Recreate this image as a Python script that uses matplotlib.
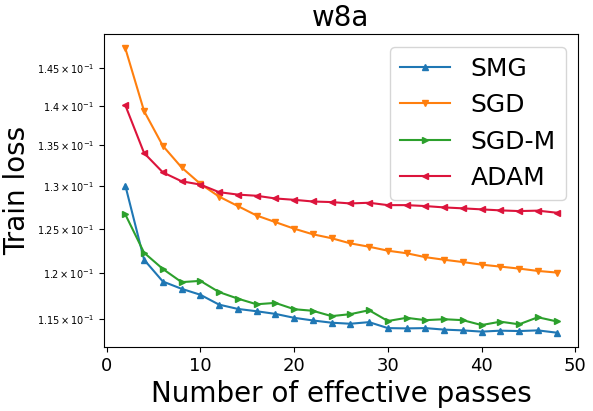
import matplotlib
matplotlib.use("Agg")
import matplotlib.pyplot as plt
import numpy as np

passes = [2, 4, 6, 8, 10, 12, 14, 16, 18, 20, 22, 24, 26, 28, 30, 32, 34, 36, 38, 40, 42, 44, 46, 48]

smg = [1.3008, 1.2146, 1.1904, 1.1824, 1.1759, 1.1652, 1.1606, 1.1581, 1.1553, 1.1511, 1.1483, 1.1459,
       1.1448, 1.1465, 1.1402, 1.1399, 1.1402, 1.1386, 1.1378, 1.1365, 1.1375, 1.1371, 1.1378, 1.1354]
sgd = [1.4768, 1.3935, 1.3495, 1.3228, 1.3029, 1.2876, 1.2764, 1.2653, 1.2576, 1.2500, 1.2435, 1.2390,
       1.2331, 1.2293, 1.2248, 1.2219, 1.2175, 1.2146, 1.2120, 1.2091, 1.2069, 1.2047, 1.2021, 1.2003]
sgdm = [1.2665, 1.2225, 1.2043, 1.1897, 1.1911, 1.1788, 1.1717, 1.1656, 1.1671, 1.1603, 1.1586, 1.1529,
        1.1550, 1.1592, 1.1477, 1.1511, 1.1486, 1.1496, 1.1486, 1.1434, 1.1470, 1.1442, 1.1517, 1.1473]
adam = [1.401, 1.3405, 1.3168, 1.306, 1.302, 1.2929, 1.290, 1.2886, 1.2854, 1.2838, 1.2818, 1.2811,
        1.2795, 1.2803, 1.2775, 1.2775, 1.2764, 1.2748, 1.2737, 1.2725, 1.2713, 1.2705, 1.2710, 1.2686]

ytick_vals = [1.15, 1.2, 1.25, 1.3, 1.35, 1.4, 1.45]
ytick_labels = [r"$1.15\times10^{-1}$", r"$1.2\times10^{-1}$", r"$1.25\times10^{-1}$",
                r"$1.3\times10^{-1}$", r"$1.35\times10^{-1}$", r"$1.4\times10^{-1}$",
                r"$1.45\times10^{-1}$"]

fig = plt.figure(figsize=(5.93, 4.11), dpi=100)
ax = fig.add_axes([0.175, 0.156, 0.800, 0.761])

ax.plot(passes, smg, marker="^", color="tab:blue", label="SMG", markersize=5)
ax.plot(passes, sgd, marker="v", color="tab:orange", label="SGD", markersize=5)
ax.plot(passes, sgdm, marker=">", color="tab:green", label="SGD-M", markersize=5)
ax.plot(passes, adam, marker="<", color="crimson", label="ADAM", markersize=5)

ax.set_yscale("log")
ax.yaxis.set_minor_locator(matplotlib.ticker.NullLocator())
ax.set_yticks(ytick_vals)
ax.set_yticklabels(ytick_labels, fontsize=7)
ax.tick_params(axis="x", labelsize=13)

ax.set_title("w8a", fontsize=20)
ax.set_xlabel("Number of effective passes", fontsize=20)
ax.set_ylabel("Train loss", fontsize=20)
ax.legend(loc="upper right", fontsize=18, handlelength=2.0)

fig.savefig("out.png", dpi=100)
